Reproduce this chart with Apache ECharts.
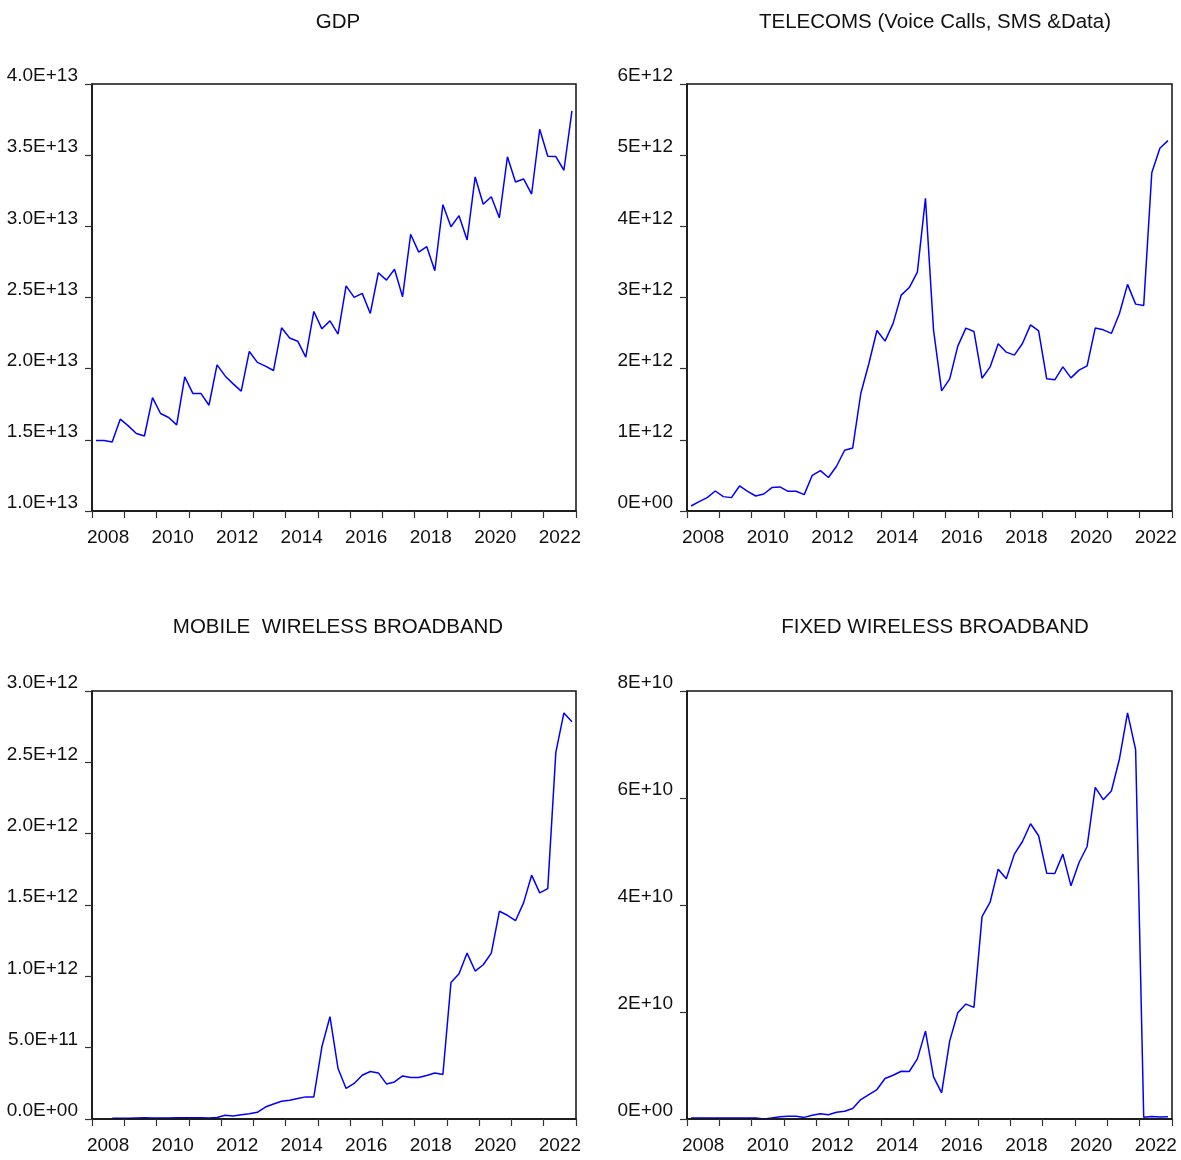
<!DOCTYPE html>
<html>
<head>
<meta charset="utf-8">
<title>GDP and Telecoms Revenue Series</title>
<script src="https://cdn.jsdelivr.net/npm/echarts@6/dist/echarts.min.js"></script>
<style>
  html, body { margin: 0; padding: 0; background: #ffffff; }
  #chart { width: 1181px; height: 1160px; }
</style>
</head>
<body>
<div id="chart"></div>
<script>
// Quarterly observations, 2008Q1 - 2022Q4
const quarters = [];
for (let y = 2008; y <= 2022; y++) {
  for (let q = 1; q <= 4; q++) quarters.push(y + 'Q' + q);
}

const gdp = [
  1.495e13, 1.495e13, 1.485e13, 1.645e13, 1.598e13, 1.544e13, 1.527e13, 1.797e13,
  1.685e13, 1.657e13, 1.605e13, 1.942e13, 1.826e13, 1.826e13, 1.743e13, 2.027e13,
  1.949e13, 1.893e13, 1.842e13, 2.121e13, 2.044e13, 2.018e13, 1.987e13, 2.287e13,
  2.215e13, 2.193e13, 2.081e13, 2.402e13, 2.280e13, 2.336e13, 2.243e13, 2.582e13,
  2.501e13, 2.529e13, 2.388e13, 2.674e13, 2.622e13, 2.698e13, 2.505e13, 2.944e13,
  2.819e13, 2.857e13, 2.688e13, 3.152e13, 2.997e13, 3.075e13, 2.904e13, 3.347e13,
  3.155e13, 3.208e13, 3.060e13, 3.489e13, 3.312e13, 3.333e13, 3.227e13, 3.682e13,
  3.492e13, 3.490e13, 3.394e13, 3.811e13
];

const telecoms = [
  0.070e12, 0.132e12, 0.188e12, 0.281e12, 0.202e12, 0.188e12, 0.352e12, 0.277e12,
  0.211e12, 0.239e12, 0.329e12, 0.338e12, 0.277e12, 0.277e12, 0.230e12, 0.502e12,
  0.568e12, 0.470e12, 0.629e12, 0.854e12, 0.886e12, 1.651e12, 2.073e12, 2.537e12,
  2.387e12, 2.636e12, 3.034e12, 3.140e12, 3.357e12, 4.394e12, 2.542e12, 1.688e12,
  1.857e12, 2.316e12, 2.570e12, 2.523e12, 1.866e12, 2.025e12, 2.349e12, 2.232e12,
  2.190e12, 2.354e12, 2.616e12, 2.532e12, 1.857e12, 1.843e12, 2.025e12, 1.871e12,
  1.979e12, 2.040e12, 2.570e12, 2.546e12, 2.495e12, 2.776e12, 3.184e12, 2.907e12,
  2.889e12, 4.754e12, 5.097e12, 5.204e12
];

const mobileBroadband = [
  null, null, 0.005e12, 0.005e12, 0.005e12, 0.007e12, 0.009e12, 0.007e12,
  0.007e12, 0.007e12, 0.009e12, 0.009e12, 0.009e12, 0.009e12, 0.007e12, 0.011e12,
  0.026e12, 0.021e12, 0.030e12, 0.037e12, 0.047e12, 0.084e12, 0.105e12, 0.124e12,
  0.131e12, 0.143e12, 0.155e12, 0.155e12, 0.506e12, 0.717e12, 0.354e12, 0.214e12,
  0.249e12, 0.307e12, 0.333e12, 0.323e12, 0.246e12, 0.260e12, 0.302e12, 0.291e12,
  0.291e12, 0.305e12, 0.323e12, 0.312e12, 0.956e12, 1.018e12, 1.163e12, 1.037e12,
  1.081e12, 1.163e12, 1.456e12, 1.428e12, 1.390e12, 1.515e12, 1.709e12, 1.585e12,
  1.615e12, 2.570e12, 2.846e12, 2.785e12
];

const fixedBroadband = [
  0.02e10, 0.02e10, 0.02e10, 0.02e10, 0.02e10, 0.02e10, 0.02e10, 0.02e10,
  0.02e10, 0.00e10, 0.02e10, 0.04e10, 0.05e10, 0.05e10, 0.03e10, 0.07e10,
  0.10e10, 0.08e10, 0.125e10, 0.144e10, 0.195e10, 0.363e10, 0.457e10, 0.551e10,
  0.757e10, 0.818e10, 0.893e10, 0.888e10, 1.124e10, 1.642e10, 0.787e10, 0.487e10,
  1.461e10, 1.985e10, 2.148e10, 2.086e10, 3.783e10, 4.052e10, 4.670e10, 4.489e10,
  4.951e10, 5.187e10, 5.519e10, 5.294e10, 4.595e10, 4.588e10, 4.951e10, 4.358e10,
  4.794e10, 5.094e10, 6.199e10, 5.968e10, 6.131e10, 6.730e10, 7.592e10, 6.905e10,
  0.035e10, 0.045e10, 0.038e10, 0.042e10
];

// Value-axis tick labels, bottom to top
const gdpTicks = ['1.0E+13', '1.5E+13', '2.0E+13', '2.5E+13', '3.0E+13', '3.5E+13', '4.0E+13'];
const telecomsTicks = ['0E+00', '1E+12', '2E+12', '3E+12', '4E+12', '5E+12', '6E+12'];
const mobileTicks = ['0.0E+00', '5.0E+11', '1.0E+12', '1.5E+12', '2.0E+12', '2.5E+12', '3.0E+12'];
const fixedTicks = ['0E+00', '2E+10', '4E+10', '6E+10', '8E+10'];

const panelTitles = ['GDP', 'TELECOMS (Voice Calls, SMS &Data)', 'MOBILE  WIRELESS BROADBAND', 'FIXED WIRELESS BROADBAND'];

// Prefer a condensed face when one is installed; otherwise use the regular
// sans at a slightly smaller size so the label widths stay comparable.
function fontInstalled(name) {
  const ctx = document.createElement('canvas').getContext('2d');
  const sample = '2008 4.0E+13 TELECOMS';
  ctx.font = '40px monospace';
  const mono = ctx.measureText(sample).width;
  ctx.font = "40px '" + name + "', monospace";
  return Math.abs(ctx.measureText(sample).width - mono) > 0.5;
}
const narrow = fontInstalled('Liberation Sans Narrow') ? 'Liberation Sans Narrow'
             : fontInstalled('Arial Narrow') ? 'Arial Narrow' : null;
const FONT = narrow ? "'" + narrow + "', sans-serif" : "'Liberation Sans', Arial, sans-serif";
const TICK_SIZE = narrow ? 22 : 19;
const TITLE_SIZE = narrow ? 24 : 20.5;
const INK = '#111111';

const panels = [
  { left: 92,  top: 84,  width: 484, height: 427, data: gdp,             ticks: gdpTicks,      min: 1.0e13, interval: 0.5e13 },
  { left: 687, top: 84,  width: 485, height: 427, data: telecoms,        ticks: telecomsTicks, min: 0,      interval: 1e12 },
  { left: 92,  top: 691, width: 484, height: 428, data: mobileBroadband, ticks: mobileTicks,   min: 0,      interval: 0.5e12 },
  { left: 687, top: 691, width: 485, height: 428, data: fixedBroadband,  ticks: fixedTicks,    min: 0,      interval: 2e10 }
];

const titleCenterX = [333, 930, 333, 930];
const titleTop = [7, 7, 612, 612];

const option = {
  backgroundColor: '#ffffff',
  animation: false,
  title: panels.map((p, i) => ({
    text: panelTitles[i],
    left: titleCenterX[i],
    top: titleTop[i],
    textAlign: 'center',
    textStyle: { fontFamily: FONT, fontSize: TITLE_SIZE, fontWeight: 'normal', color: INK }
  })),
  grid: panels.map(p => ({
    left: p.left, top: p.top, width: p.width, height: p.height,
    containLabel: false,
    outerBoundsMode: 'none',
    show: true, borderColor: INK, borderWidth: 1.5, backgroundColor: 'transparent'
  })),
  xAxis: panels.map((p, i) => ({
    type: 'category',
    gridIndex: i,
    data: quarters,
    boundaryGap: true,
    z: 10,
    axisLine: { show: true, lineStyle: { color: INK, width: 1.5 } },
    axisTick: { show: true, inside: false, length: 7, interval: 3, lineStyle: { color: '#333', width: 1.2 } },
    axisLabel: {
      show: true,
      interval: (idx) => idx % 8 === 1,
      formatter: (v) => v.slice(0, 4),
      margin: 17,
      padding: [0, 0, 0, 8],
      fontFamily: FONT, fontSize: TICK_SIZE, color: INK
    },
    splitLine: { show: false }
  })),
  yAxis: panels.map((p, i) => ({
    type: 'value',
    gridIndex: i,
    min: p.min,
    max: p.min + p.interval * (p.ticks.length - 1),
    interval: p.interval,
    z: 10,
    axisLine: { show: true, lineStyle: { color: INK, width: 1.5 } },
    axisTick: { show: true, inside: false, length: 7, lineStyle: { color: '#333', width: 1.2 } },
    axisLabel: {
      show: true,
      margin: 14,
      verticalAlign: 'bottom',
      lineHeight: 16,
      formatter: (v) => p.ticks[Math.round((v - p.min) / p.interval)],
      fontFamily: FONT, fontSize: TICK_SIZE, color: INK
    },
    splitLine: { show: false }
  })),
  series: panels.map((p, i) => ({
    type: 'line',
    xAxisIndex: i,
    yAxisIndex: i,
    data: p.data,
    showSymbol: false,
    connectNulls: false,
    clip: true,
    lineStyle: { color: '#0000ff', width: 1.5 },
    emphasis: { disabled: true }
  }))
};

const chart = echarts.init(document.getElementById('chart'), null, { renderer: 'canvas' });
chart.setOption(option);
</script>
</body>
</html>
